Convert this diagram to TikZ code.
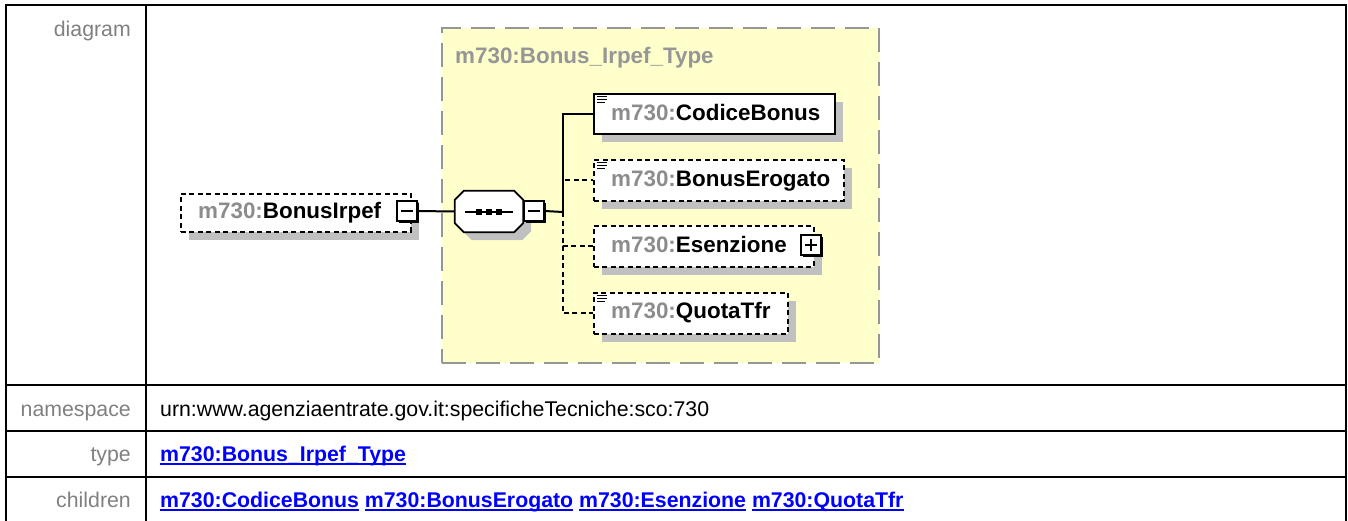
\documentclass[tikz,border=0pt]{standalone}
\usepackage{fontspec}
\setmainfont{Liberation Sans}
\definecolor{lblgray}{RGB}{128,128,128}
\definecolor{pfxgray}{RGB}{140,140,140}
\definecolor{ttlgray}{RGB}{150,150,150}
\definecolor{tyellow}{RGB}{255,255,204}
\definecolor{tborder}{RGB}{150,150,150}
\definecolor{shgray}{RGB}{192,192,192}
\definecolor{lnkblue}{RGB}{0,0,255}
\newcommand\ulink[1]{\setbox0\hbox{#1}\rlap{\rule[-3.6pt]{\wd0}{1.7pt}}\box0\relax}
\newcommand\docicon[1]{\foreach \d/\l in {3.5/10,6.5/10,9.5/8}{\draw[line width=1.1pt] ([xshift=4pt,yshift=-\d pt]#1.north west) -- ++(\l pt,0pt);}}
\newcommand\pfx{{\color{pfxgray}m730:}}
\begin{document}
\begin{tikzpicture}[x=1pt,y=-1pt,
  tline/.style={line width=2.6pt},
  lbl/.style={anchor=base east, inner sep=0, text=lblgray, font=\fontsize{21.3}{25}\selectfont},
  val/.style={anchor=base west, inner sep=0, font=\fontsize{21.3}{25}\selectfont},
  lnk/.style={anchor=base west, inner sep=0, text=lnkblue, font=\fontsize{21.3}{25}\selectfont\bfseries},
  elembox/.style={anchor=north west, draw=black, fill=white, line width=1.8pt, inner sep=0,
     preaction={fill=shgray, transform canvas={xshift=8.5pt,yshift=-8.5pt}}},
  optional/.style={dash pattern=on 5pt off 3.5pt},
  ename/.style={anchor=base west, inner sep=0, font=\fontsize{22.4}{26}\selectfont\bfseries},
  btn/.style={draw=black, fill=white, line width=1.8pt, minimum width=20pt, minimum height=20pt, inner sep=0,
     preaction={fill=black, transform canvas={xshift=2.2pt,yshift=-2.2pt}}},
  minusbtn/.style={btn, path picture={\draw[line width=1.6pt] ([xshift=-6pt]path picture bounding box.center) -- ([xshift=6pt]path picture bounding box.center);}},
  plusbtn/.style={btn, path picture={\draw[line width=1.6pt] ([xshift=-6pt]path picture bounding box.center) -- ([xshift=6pt]path picture bounding box.center) ([yshift=-6pt]path picture bounding box.center) -- ([yshift=6pt]path picture bounding box.center);}},
  conn/.style={line width=2pt}
]
\useasboundingbox (0,0) rectangle (1348,520);

% table grid
\draw[tline] (6,523) -- (6,5) -- (1346,5) -- (1346,523);
\draw[tline] (146,5) -- (146,523);
\draw[tline] (6,385) -- (1346,385);
\draw[tline] (6,431) -- (1346,431);
\draw[tline] (6,477) -- (1346,477);

% labels
\node[lbl] (ldiag) at (131,36) {diagram};
\node[lbl] (lns) at (131,416) {namespace};
\node[lbl] (ltype) at (131,461) {type};
\node[lbl] (lchild) at (131,507) {children};

% values
\node[val] (vns) at (160,416) {urn:www.agenziaentrate.gov.it:specificheTecniche:sco:730};
\node[lnk] (vtype) at (160,461) {\ulink{m730:Bonus\_Irpef\_Type}};
\node[lnk] (vchild) at (160,507) {\ulink{m730:CodiceBonus} \ulink{m730:BonusErogato} \ulink{m730:Esenzione} \ulink{m730:QuotaTfr}};

% complex type box
\node[anchor=north west, draw=tborder, fill=tyellow, line width=2pt, dash pattern=on 24pt off 10pt,
      minimum width=437pt, minimum height=335pt, inner sep=0] (tbox) at (441,27) {};
\node[anchor=base west, inner sep=0, text=ttlgray, font=\fontsize{22.4}{26}\selectfont\bfseries] (ttitle) at (455,63) {m730:Bonus\_Irpef\_Type};

% root element
\node[elembox, optional, minimum width=230pt, minimum height=38pt] (bi) at (180,193) {};
\node[ename] (bit) at (198,218) {\pfx BonusIrpef};
\node[minusbtn] (bim) at (407,211) {};

% sequence compositor
\node[inner sep=0, minimum width=68pt, minimum height=41pt] (seq) at (489,211.5) {};
\draw[line width=1.8pt, fill=white, preaction={fill=shgray, transform canvas={xshift=8pt,yshift=-8pt}}]
  ([xshift=9pt]seq.north west) -- ([xshift=-9pt]seq.north east) -- ([yshift=-9pt]seq.north east)
  -- ([yshift=9pt]seq.south east) -- ([xshift=-9pt]seq.south east) -- ([xshift=9pt]seq.south west)
  -- ([yshift=9pt]seq.south west) -- ([yshift=-9pt]seq.north west) -- cycle;
\draw[line width=1.5pt] (465,212) -- (513,212);
\foreach \xx in {479,489,499}{\fill (\xx-3,209) rectangle (\xx+3,215);}
\node[minusbtn] (seqm) at (534,211) {};

% children
\node[elembox, minimum width=241pt, minimum height=40pt] (cb) at (593,93) {};
\node[ename] (cbt) at (611,120) {\pfx CodiceBonus};
\node[elembox, optional, minimum width=250pt, minimum height=41pt] (be) at (593,159) {};
\node[ename] (bet) at (611,186) {\pfx BonusErogato};
\node[elembox, optional, minimum width=220pt, minimum height=41pt] (es) at (593,225) {};
\node[ename] (est) at (611,252) {\pfx Esenzione};
\node[plusbtn] (esp) at (811,245) {};
\node[elembox, optional, minimum width=194pt, minimum height=41pt] (qt) at (593,292) {};
\node[ename] (qtt) at (611,318) {\pfx QuotaTfr};

\docicon{cb}
\docicon{be}
\docicon{qt}

% connectors
\coordinate (trunk) at (563,212);
\draw[conn] (bim.east) -- (seq.west);
\draw[conn] (seqm.east) -- (trunk);
\draw[conn, optional] (trunk) |- (be.west);
\draw[conn, optional] (trunk) |- (es.west);
\draw[conn, optional] (trunk) |- (qt.west);
\draw[conn] (trunk) |- (cb.west);
\end{tikzpicture}
\end{document}
